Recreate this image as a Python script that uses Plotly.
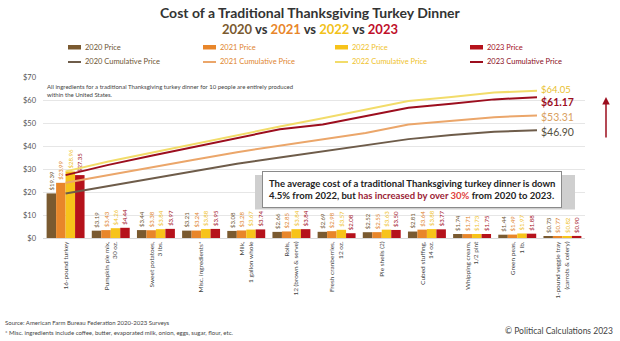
import numpy as np
import plotly.graph_objects as go

categories = ["16-pound turkey", "Pumpkin pie mix,<br>30 oz.", "Sweet potatoes,<br>3 lbs.",
              "Misc. ingredients*", "Milk,<br>1 gallon whole", "Rolls,<br>12 (brown & serve)",
              "Fresh cranberries,<br>12 oz.", "Pie shells (2)", "Cubed stuffing,<br>14 oz.",
              "Whipping cream,<br>1/2 pint", "Green peas,<br>1 lb.",
              "1-pound veggie tray<br>(carrots & celery)"]
price_2020 = [19.39, 3.19, 3.44, 3.21, 3.08, 2.66, 2.69, 2.52, 2.81, 1.74, 1.44, 0.73]
price_2021 = [23.99, 3.43, 3.38, 3.24, 3.28, 2.85, 2.98, 2.55, 3.64, 1.71, 1.49, 0.77]
price_2022 = [28.96, 4.26, 3.84, 3.88, 3.67, 3.84, 3.57, 3.63, 3.88, 1.73, 1.97, 0.82]
price_2023 = [27.35, 4.44, 3.97, 3.95, 3.74, 3.84, 2.08, 3.50, 3.77, 1.75, 1.88, 0.90]
years = ["2020", "2021", "2022", "2023"]
totals = [46.90, 53.31, 64.05, 61.17]
y_ticks = [0, 10, 20, 30, 40, 50, 60, 70]

bar_colors = ["#7a5a30", "#e8862a", "#f7c31a", "#b5121b"]
text_colors = ["#6e5634", "#e0852e", "#efc22a", "#a3101c"]
line_colors = ["#6e5c4a", "#eba66a", "#f2dc6a", "#9c0e1e"]
FONT = "Lato"

L, R, T, B = 43, 585, 77, 238
W, H = R - L, B - T
def px(x): return (x - L) / W
def py(y): return (B - y) / H

fig = go.Figure()
series = [price_2020, price_2021, price_2022, price_2023]
idx = list(range(len(categories)))
for yr, vals, c, tc in zip(years, series, bar_colors, text_colors):
    fig.add_trace(go.Bar(x=idx, y=vals, name=yr + " Price", marker=dict(color=c, line=dict(width=0)),
                         text=[f"${v:.2f}" for v in vals], textposition="outside", textangle=-90,
                         textfont=dict(size=6, color=tc, family=FONT), constraintext="none",
                         cliponaxis=False, showlegend=False))
for yr, vals, c in zip(years, series, line_colors):
    fig.add_trace(go.Scatter(x=idx, y=np.cumsum(vals), xaxis="x2", mode="lines",
                             line=dict(color=c, width=2), showlegend=False, name=yr + " Cumulative Price"))

ann = []
shapes = []
def text(x, y, t, size, color, xa="center", ya="middle", **kw):
    ann.append(dict(x=px(x), y=py(y), xref="paper", yref="paper", showarrow=False, text=t,
                    xanchor=xa, yanchor=ya, font=dict(size=size, color=color, family=FONT), **kw))

# title
text(310, 13, "<b>Cost of a Traditional Thanksgiving Turkey Dinner</b>", 14, "#333333")
sub = ("<b><span style='color:#7a5a30'>2020</span> vs <span style='color:#e8862a'>2021</span> vs "
       "<span style='color:#f2c21a'>2022</span> vs <span style='color:#c0102a'>2023</span></b>")
text(310, 29, sub, 13, "#333333")
# legend
cols = [68, 203, 335, 470]
for i, yr in enumerate(years):
    x0 = cols[i]
    shapes.append(dict(type="rect", xref="paper", yref="paper", x0=px(x0), x1=px(x0 + 13),
                       y0=py(49.5), y1=py(45), fillcolor=bar_colors[i], line=dict(width=0)))
    text(x0 + 15, 47.5, yr + " Price", 7.5, text_colors[i], xa="left")
    shapes.append(dict(type="line", xref="paper", yref="paper", x0=px(x0), x1=px(x0 + 13),
                       y0=py(62), y1=py(62), line=dict(color=line_colors[i], width=2)))
    text(x0 + 15, 62, yr + " Cumulative Price", 7.5, text_colors[i] if i != 3 else "#8a0e1c", xa="left")
# note
text(45, 81, "All ingredients for a traditional Thanksgiving turkey dinner for 10 people are entirely produced<br>within the United States.",
     6, "#444444", xa="left", ya="top", align="left")
# end labels
end_style = [("#555040", 10.5, False), ("#d9a060", 10.5, False), ("#e8c030", 9.5, False), ("#9c0e1e", 10.5, True)]
yshift = [-2, -2, 1.5, -5]
for i, tot in enumerate(totals):
    c, s, bold = end_style[i]
    ann.append(dict(x=len(categories) - 1, y=tot, xref="x2", yref="y", showarrow=False, xanchor="left",
                    yanchor="middle", xshift=2, yshift=yshift[i],
                    text=(f"<b>${tot:.2f}</b>" if bold else f"${tot:.2f}"),
                    font=dict(size=s, color=c, family=FONT)))
# arrow
ann.append(dict(x=px(606), y=py(97), xref="paper", yref="paper", ax=0, ay=42, axref="pixel", ayref="pixel",
                showarrow=True, arrowhead=2, arrowsize=1, arrowwidth=1.5, arrowcolor="#9c0e1e", text=""))
# text box shadow + box
shapes.append(dict(type="rect", xref="paper", yref="paper", x0=px(255), x1=px(575), y0=py(209.5), y1=py(175),
                   fillcolor="#cfcfcf", line=dict(width=0)))
box = ("<b>The average cost of a traditional Thanksgiving turkey dinner is down<br>"
       "4.5% from 2022, but <span style='color:#9b2335'>has increased by over </span>"
       "<span style='color:#e0403a'>30%</span> from 2020 to 2023.</b>")
text(412, 189, box, 9.5, "#222222", align="left", bgcolor="white", bordercolor="#8a8a8a",
     borderwidth=1, borderpad=6)
# footer
text(3, 322, "Source: American Farm Bureau Federation 2020-2023 Surveys", 6, "#444444", xa="left")
text(3, 332, "* Misc. ingredients include coffee, butter, evaporated milk, onion, eggs, sugar, flour, etc.",
     6, "#444444", xa="left")
text(615, 331, "© Political Calculations 2023", 8.5, "#444444", xa="right")

fig.update_layout(
    width=620, height=341, margin=dict(l=L, r=620 - R, t=T, b=341 - B),
    paper_bgcolor="white", plot_bgcolor="white", font=dict(family=FONT),
    barmode="group", bargap=0.16, bargroupgap=0,
    xaxis=dict(range=[-0.5, len(categories) - 0.5], tickmode="array", tickvals=idx, ticktext=categories,
               tickangle=-90, tickfont=dict(size=6.5, color="#444444", family=FONT), showgrid=False,
               showline=True, linecolor="#d9d9d9", ticks=""),
    xaxis2=dict(overlaying="x", range=[-0.527, 12.12], visible=False),
    yaxis=dict(range=[0, 70], tickvals=y_ticks, ticktext=[f"${v}" for v in y_ticks],
               tickfont=dict(size=7.5, color="#555555", family=FONT), gridcolor="#e6e6e6",
               zeroline=False, showline=False, ticks="", ticklabelstandoff=6),
    annotations=ann, shapes=shapes,
)
fig.write_html("out.html")
